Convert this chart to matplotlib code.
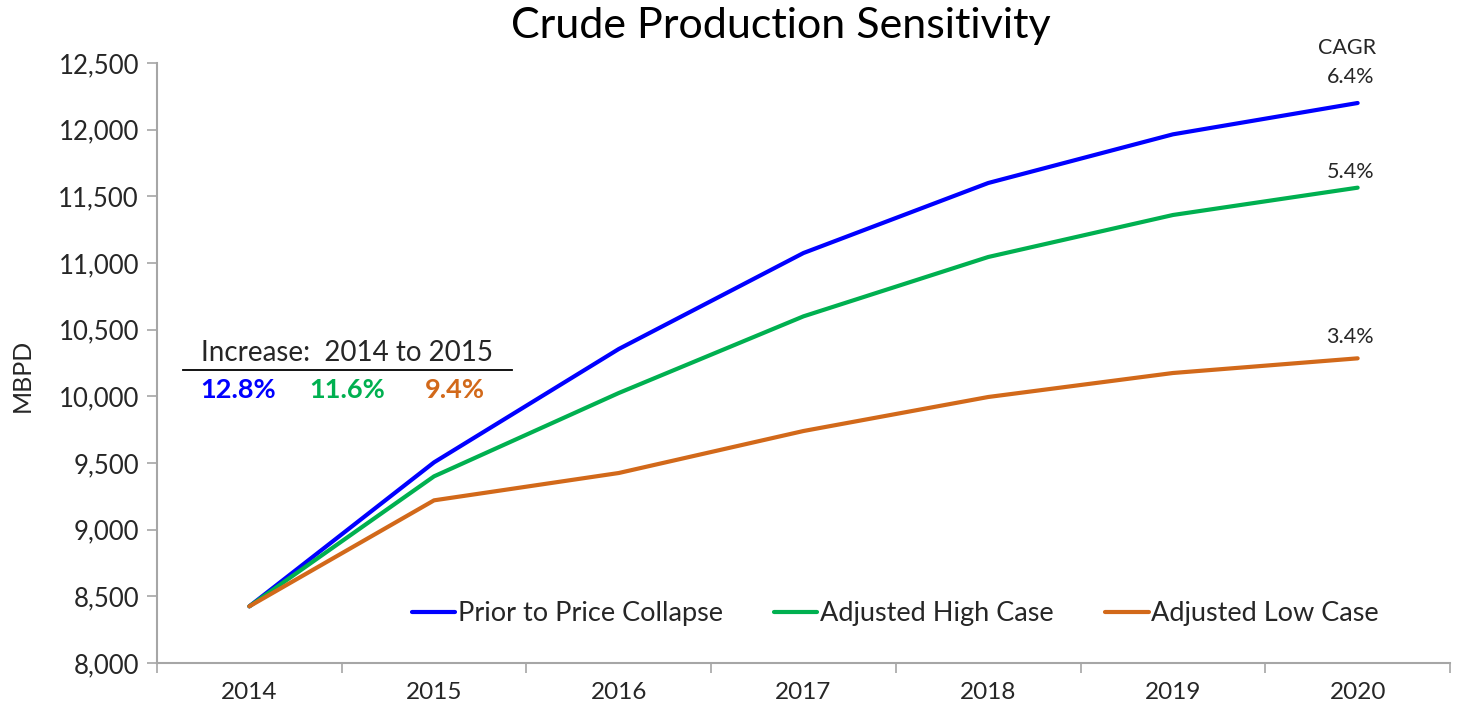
import matplotlib
matplotlib.use("Agg")
import matplotlib.pyplot as plt
from matplotlib.ticker import FuncFormatter, FixedLocator

plt.rcParams["font.family"] = ["Lato", "DejaVu Sans"]

# ── Data ──────────────────────────────────────────────────────────────────────
YEARS = ["2014", "2015", "2016", "2017", "2018", "2019", "2020"]
PRIOR = [8425, 9505, 10355, 11075, 11600, 11965, 12200]
HIGH  = [8425, 9400, 10025, 10600, 11045, 11360, 11565]
LOW   = [8425, 9220, 9425, 9740, 9995, 10175, 10285]

SERIES_NAMES = ["Prior to Price Collapse", "Adjusted High Case", "Adjusted Low Case"]
CAGR = ["6.4%", "5.4%", "3.4%"]
INCREASE = ["12.8%", "11.6%", "9.4%"]

COLORS = ["#0000FF", "#00B050", "#D2691A"]
AXIS_GRAY = "#A6A6A6"
TEXT = "#262626"

fig = plt.figure(figsize=(14.62, 7.18), dpi=100)
ax = fig.add_axes([157 / 1462, 55 / 718, 1293 / 1462, 600 / 718])

x = list(range(len(YEARS)))
for vals, name, c in zip([PRIOR, HIGH, LOW], SERIES_NAMES, COLORS):
    ax.plot(x, vals, color=c, lw=3.0, label=name, solid_capstyle="round")

ax.set_xlim(-0.5, len(YEARS) - 0.5)
ax.set_ylim(8000, 12500)
ax.set_yticks(range(8000, 12501, 500))
ax.yaxis.set_major_formatter(FuncFormatter(lambda v, p: f"{int(v):,}"))

# category ticks between, labels in centre (Excel style)
ax.xaxis.set_major_locator(FixedLocator([i - 0.5 for i in range(len(YEARS) + 1)]))
ax.xaxis.set_minor_locator(FixedLocator(x))
ax.set_xticklabels([], minor=False)
ax.set_xticklabels(YEARS, minor=True)
ax.tick_params(axis="x", which="major", length=7, color=AXIS_GRAY, width=1.2)
ax.tick_params(axis="x", which="minor", length=0, pad=14, labelsize=17.5, labelcolor=TEXT)
ax.tick_params(axis="y", length=7, color=AXIS_GRAY, width=1.2, labelsize=18.5,
               labelcolor=TEXT, pad=6)

for s in ["top", "right"]:
    ax.spines[s].set_visible(False)
for s in ["left", "bottom"]:
    ax.spines[s].set_color(AXIS_GRAY)
    ax.spines[s].set_linewidth(1.5)

fig.text(22 / 1462, 1 - 375 / 718, "MBPD", rotation=90, ha="center", va="center",
         fontsize=18, color=TEXT)
fig.suptitle("Crude Production Sensitivity", fontsize=31, color="black",
             x=781 / 1462, y=0.99)

# CAGR labels at 2020
last = len(YEARS) - 1
ax.text(last - 0.055, 12612, "CAGR", ha="center", va="center", fontsize=15.5,
        color=TEXT, clip_on=False)
for vals, lab, off in zip([PRIOR, HIGH, LOW], CAGR, [195, 117, 160]):
    ax.text(last - 0.04, vals[-1] + off, lab, ha="center", va="center",
            fontsize=15.5, color=TEXT)

# 2014 -> 2015 increase box
ax.text(0.53, 10325, "Increase:  2014 to 2015", ha="center", va="center",
        fontsize=20, color=TEXT)
ax.plot([-0.357, 1.424], [10197, 10197], color="black", lw=1.3)
for xp, lab, c in zip([-0.06, 0.53, 1.115], INCREASE, COLORS):
    ax.text(xp, 10045, lab, ha="center", va="center", fontsize=19.5,
            fontweight="bold", color=c)

leg = ax.legend(loc="center", bbox_to_anchor=(0.571, 0.082), ncol=3,
                frameon=False, fontsize=19.5, handlelength=1.6, handletextpad=0.1,
                columnspacing=1.9)
for t in leg.get_texts():
    t.set_color(TEXT)

fig.savefig("out.png", dpi=100)
